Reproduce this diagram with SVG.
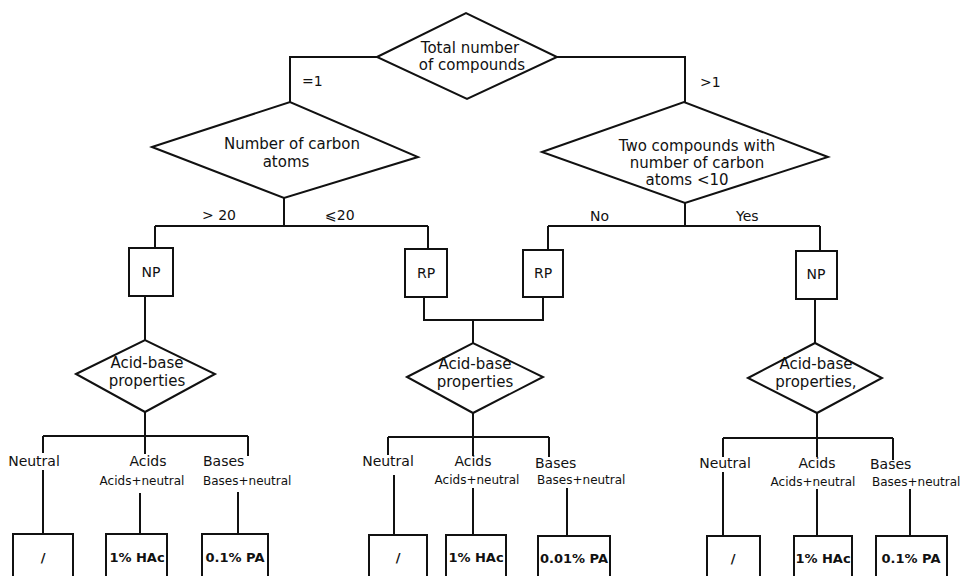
<svg xmlns="http://www.w3.org/2000/svg" width="965" height="576" viewBox="0 0 965 576">
<style>
  .shape { fill: #fff; stroke: #111; stroke-width: 2; }
  .conn path { fill: none; stroke: #111; stroke-width: 2; }
  text { font-family: "DejaVu Sans", "Liberation Sans", sans-serif; fill: #111; text-anchor: middle; }
  .big { font-size: 15px; }
  .mid { font-size: 15px; }
  .lab { font-size: 14px; }
  .sub { font-size: 12px; }
  .box { font-size: 13px; font-weight: bold; }
  .start { text-anchor: start; }
</style>
<rect width="965" height="576" fill="#fff"/>

<g id="connectors" class="conn">
  <path d="M377,57 H290 V102"/>
  <path d="M557,57 H685 V102"/>
  <path d="M284,198 V226 M155,226 H428 M155,226 V248 M428,226 V249"/>
  <path d="M685,203 V226 M548,226 H820 M548,226 V250 M820,226 V251"/>
  <path d="M424,297 V320 H543 V297 M473,320 V343"/>
  <path d="M145,296 V340"/>
  <path d="M815,299 V343"/>
  <path d="M145,412 V454 M43,436 H248 M43,436 V453 M248,436 V456"/>
  <path d="M43,470 V534 M140,493 V534 M238,492 V534"/>
  <path d="M473,413 V456 M388,437 H549 M388,437 V455 M549,437 V457"/>
  <path d="M394,475 V535 M473,488 V535 M567,488 V536"/>
  <path d="M817,413 V457 M723,438 H893 M723,438 V457 M893,438 V460"/>
  <path d="M723,472 V536 M817,489 V536 M910,489 V536"/>
</g>

<g id="edge-labels">
  <text class="lab start" x="302" y="86">=1</text>
  <text class="lab start" x="700" y="87">&gt;1</text>
  <text class="lab start" x="202" y="220">&gt; 20</text>
  <text class="lab start" x="325" y="220">⩽20</text>
  <text class="lab start" x="590" y="221">No</text>
  <text class="lab start" x="736" y="221">Yes</text>
</g>

<g id="total">
  <polygon class="shape" points="377,57 466,13 557,57 467,99"/>
  <text class="big" x="470" y="53">Total number</text>
  <text class="big" x="472" y="70">of compounds</text>
</g>

<g id="carbon">
  <polygon class="shape" points="152,147 290,102 418,157 284,198"/>
  <text class="big" x="292" y="149">Number of carbon</text>
  <text class="big" x="286" y="167">atoms</text>
</g>

<g id="two-compounds">
  <polygon class="shape" points="542,152 684,102 828,157 685,203"/>
  <text class="big" x="697" y="151">Two compounds with</text>
  <text class="big" x="697" y="168">number of carbon</text>
  <text class="big" x="687" y="185">atoms  &lt;10</text>
</g>

<g id="np-left">
  <rect class="shape" x="129" y="248" width="44" height="48"/>
  <text class="lab" x="151" y="277">NP</text>
</g>
<g id="rp-left">
  <rect class="shape" x="405" y="249" width="42" height="48"/>
  <text class="lab" x="426" y="278">RP</text>
</g>
<g id="rp-right">
  <rect class="shape" x="523" y="250" width="40" height="47"/>
  <text class="lab" x="543" y="278">RP</text>
</g>
<g id="np-right">
  <rect class="shape" x="796" y="251" width="41" height="48"/>
  <text class="lab" x="816" y="279">NP</text>
</g>

<g id="acid-base-1">
  <polygon class="shape" points="76,374 145,340 215,374 145,412"/>
  <text class="mid" x="147" y="368">Acid-base</text>
  <text class="mid" x="147" y="386">properties</text>
</g>
<g id="acid-base-2">
  <polygon class="shape" points="407,377 473,343 543,377 473,413"/>
  <text class="mid" x="475" y="369">Acid-base</text>
  <text class="mid" x="475" y="387">properties</text>
</g>
<g id="acid-base-3">
  <polygon class="shape" points="748,378 815,343 882,378 817,413"/>
  <text class="mid" x="816" y="369">Acid-base</text>
  <text class="mid" x="816" y="387">properties,</text>
</g>

<g id="labels-1">
  <text class="lab" x="34" y="466">Neutral</text>
  <text class="lab" x="148" y="466">Acids</text>
  <text class="lab start" x="203" y="466">Bases</text>
  <text class="sub" x="142" y="485">Acids+neutral</text>
  <text class="sub start" x="203" y="485">Bases+neutral</text>
</g>
<g id="labels-2">
  <text class="lab" x="388" y="466">Neutral</text>
  <text class="lab" x="473" y="466">Acids</text>
  <text class="lab start" x="535" y="468">Bases</text>
  <text class="sub" x="477" y="484">Acids+neutral</text>
  <text class="sub start" x="537" y="484">Bases+neutral</text>
</g>
<g id="labels-3">
  <text class="lab" x="725" y="468">Neutral</text>
  <text class="lab" x="817" y="468">Acids</text>
  <text class="lab start" x="870" y="469">Bases</text>
  <text class="sub" x="813" y="486">Acids+neutral</text>
  <text class="sub start" x="872" y="486">Bases+neutral</text>
</g>

<g id="box-1a"><rect class="shape" x="13" y="534" width="60" height="50"/><text class="box" x="43" y="562">/</text></g>
<g id="box-1b"><rect class="shape" x="106" y="534" width="61" height="50"/><text class="box" x="137" y="562">1% HAc</text></g>
<g id="box-1c"><rect class="shape" x="202" y="534" width="66" height="50"/><text class="box" x="235" y="562">0.1% PA</text></g>

<g id="box-2a"><rect class="shape" x="369" y="535" width="58" height="50"/><text class="box" x="398" y="562">/</text></g>
<g id="box-2b"><rect class="shape" x="446" y="535" width="60" height="50"/><text class="box" x="476" y="562">1% HAc</text></g>
<g id="box-2c"><rect class="shape" x="538" y="536" width="72" height="50"/><text class="box" x="574" y="563">0.01% PA</text></g>

<g id="box-3a"><rect class="shape" x="707" y="536" width="53" height="50"/><text class="box" x="733" y="563">/</text></g>
<g id="box-3b"><rect class="shape" x="794" y="536" width="58" height="50"/><text class="box" x="823" y="563">1% HAc</text></g>
<g id="box-3c"><rect class="shape" x="876" y="536" width="71" height="50"/><text class="box" x="911" y="563">0.1% PA</text></g>
</svg>
